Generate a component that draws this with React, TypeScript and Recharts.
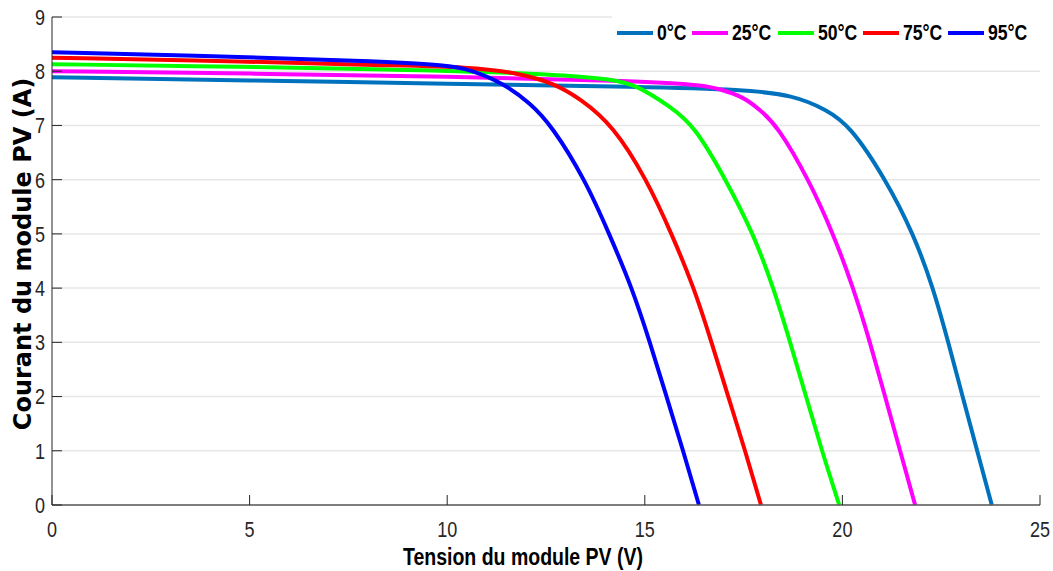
import React from 'react';
import { LineChart, Line, XAxis, YAxis, CartesianGrid, Legend } from 'recharts';

// I-V curves (V in volts, I in amps)
const v0 = [0, 5, 10, 15, 17.5, 18.76, 19.6, 20.19, 21.1, 21.8, 22.3, 22.68, 23.04, 23.41, 23.78];
const i0 = [7.89, 7.83, 7.77, 7.71, 7.66, 7.56, 7.29, 7.0, 6.0, 5.0, 4.0, 3.0, 2.0, 1.0, 0];

const v25 = [0, 5, 10, 15, 16.5, 16.9, 17.49, 17.91, 18.35, 19.15, 19.77, 20.28, 20.7, 21.08, 21.46, 21.84];
const i25 = [8.0, 7.96, 7.9, 7.82, 7.74, 7.67, 7.53, 7.29, 7.0, 6.0, 5.0, 4.0, 3.0, 2.0, 1.0, 0];

const v50 = [0, 5, 8.3, 12.5, 14.2, 14.8, 15.64, 16.25, 17.05, 17.75, 18.26, 18.68, 19.08, 19.48, 19.92];
const i50 = [8.13, 8.08, 8.04, 7.96, 7.85, 7.74, 7.35, 7.0, 6.0, 5.0, 4.0, 3.0, 2.0, 1.0, 0];

const v75 = [0, 5, 8.3, 10.6, 11.84, 12.69, 13.36, 14.2, 15.05, 15.68, 16.25, 16.69, 17.11, 17.54, 17.94];
const i75 = [8.25, 8.18, 8.11, 8.08, 7.96, 7.78, 7.5, 7.0, 6.0, 5.0, 4.0, 3.0, 2.0, 1.0, 0];

const v95 = [0, 5, 8.3, 9.99, 10.58, 11.42, 12.1, 12.64, 13.49, 14.1, 14.68, 15.13, 15.55, 15.97, 16.37];
const i95 = [8.35, 8.26, 8.18, 8.11, 8.03, 7.78, 7.41, 7.0, 6.0, 5.0, 4.0, 3.0, 2.0, 1.0, 0];

const names = ['0°C', '25°C', '50°C', '75°C', '95°C'];
const colors = ['#0072BD', '#FF00FF', '#00FF00', '#FF0000', '#0000FF'];
const xTicks = [0, 5, 10, 15, 20, 25];
const yTicks = [0, 1, 2, 3, 4, 5, 6, 7, 8, 9];

const toPoints = (v: number[], i: number[]) => v.map((x, k) => ({ v: x, i: i[k] }));

const series = [
  toPoints(v0, i0),
  toPoints(v25, i25),
  toPoints(v50, i50),
  toPoints(v75, i75),
  toPoints(v95, i95),
].map((data, k) => ({ data, name: names[k], color: colors[k] }));

const sans = '"Liberation Sans", Arial, sans-serif';

// no narrow font installed, so squeeze the glyphs horizontally
const YTick = (props: any) => {
  const { x, y, payload } = props;
  return (
    <g>
      <line x1={x + 7} x2={x + 17} y1={y} y2={y} stroke="#262626" strokeWidth={1} />
      <text
        transform={`translate(${x},${y}) scale(0.82,1)`}
        dy="0.36em"
        textAnchor="end"
        fontFamily={sans}
        fontSize={22}
        fill="#262626"
      >
        {payload.value}
      </text>
    </g>
  );
};

const XTick = (props: any) => {
  const { x, y, payload } = props;
  return (
    <g>
      <line x1={x} x2={x} y1={y - 16} y2={y - 26} stroke="#262626" strokeWidth={1} />
      <text
        transform={`translate(${x},${y}) scale(0.82,1)`}
        dy="0.72em"
        textAnchor="middle"
        fontFamily={sans}
        fontSize={22}
        fill="#262626"
      >
        {payload.value}
      </text>
    </g>
  );
};

const renderLegend = () => (
  <div style={{ display: 'flex', alignItems: 'center', height: 36, paddingLeft: 5, background: '#fff' }}>
    {series.map((s) => (
      <div
        key={s.name}
        style={{ display: 'flex', alignItems: 'center', width: 46 + 9.8 * s.name.length, whiteSpace: 'nowrap' }}
      >
        <span style={{ display: 'inline-block', width: 36, height: 4, background: s.color, marginRight: 4, flex: 'none' }} />
        <span
          style={{
            display: 'inline-block',
            fontFamily: sans,
            fontWeight: 'bold',
            fontSize: 22,
            color: '#000',
            transform: 'scaleX(0.8)',
            transformOrigin: 'left center',
          }}
        >
          {s.name}
        </span>
      </div>
    ))}
  </div>
);

const App: React.FC = () => {
  return (
    <div style={{ position: 'absolute', left: 0, top: 0, width: 1053, height: 571, background: '#fff' }}>
      <LineChart width={1053} height={571} margin={{ top: 17, right: 13, bottom: 26, left: 0 }}>
        <CartesianGrid vertical={false} stroke="#e6e6e6" strokeWidth={1.5} />
        <XAxis
          dataKey="v"
          type="number"
          domain={[0, 25]}
          ticks={xTicks}
          height={40}
          tickLine={false}
          tickSize={0}
          tickMargin={16}
          tick={<XTick />}
          axisLine={{ stroke: '#5a5a5a', strokeWidth: 1.5 }}
          label={(p: any) => {
            const vb = p.viewBox;
            return (
              <text
                x={vb.x + vb.width / 2 - 23}
                y={557}
                dy="0.35em"
                textAnchor="middle"
                textLength={240}
                lengthAdjust="spacingAndGlyphs"
                fontFamily={sans}
                fontWeight="bold"
                fontSize={23}
                fill="#000"
              >
                Tension du module PV (V)
              </text>
            );
          }}
        />
        <YAxis
          type="number"
          domain={[0, 9]}
          ticks={yTicks}
          width={52}
          tickLine={false}
          tickSize={0}
          tickMargin={7}
          tick={<YTick />}
          axisLine={{ stroke: '#262626', strokeWidth: 1 }}
          label={(p: any) => {
            const vb = p.viewBox;
            const cy = vb.y + vb.height / 2 - 7;
            return (
              <text
                x={23}
                y={cy}
                dy="0.35em"
                transform={`rotate(-90, 23, ${cy})`}
                textAnchor="middle"
                fontFamily='"DejaVu Sans", Verdana, sans-serif'
                fontWeight="bold"
                fontSize={24}
                fill="#000"
              >
                Courant du module PV (A)
              </text>
            );
          }}
        />
        <Legend
          layout="horizontal"
          verticalAlign="middle"
          content={renderLegend}
          wrapperStyle={{ left: 612, top: 15, width: 428, height: 38, background: '#fff' }}
        />
        {series.map((s) => (
          <Line
            key={s.name}
            data={s.data}
            dataKey="i"
            name={s.name}
            type="basis"
            stroke={s.color}
            strokeWidth={4}
            dot={false}
            activeDot={false}
            isAnimationActive={false}
          />
        ))}
      </LineChart>
    </div>
  );
};

export default App;
